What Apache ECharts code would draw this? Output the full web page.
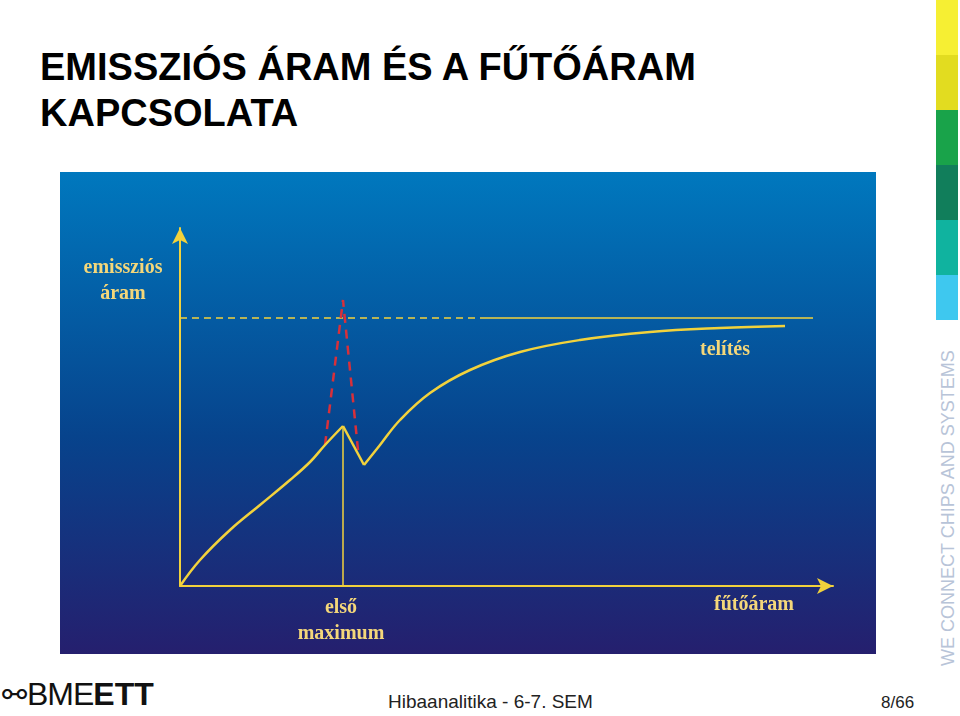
<!DOCTYPE html>
<html><head><meta charset="utf-8">
<script src="https://cdn.jsdelivr.net/npm/echarts@6/dist/echarts.min.js"></script>
<style>
body{margin:0;width:960px;height:716px;background:#fff;position:relative;overflow:hidden;font-family:"Liberation Sans",Arial,sans-serif}
#title{position:absolute;left:40px;top:44px;font-size:38px;font-weight:bold;line-height:46px;color:#000;white-space:nowrap}
#chart{position:absolute;left:60px;top:172px;width:816px;height:482px}
.s{position:absolute;left:936px;width:22px}
#vt{position:absolute;left:937px;top:666px;transform-origin:0 0;transform:rotate(-90deg);font-size:18px;line-height:22px;color:#b8c4d8;white-space:nowrap;font-weight:300}
#logo{position:absolute;left:2px;top:676px;font-size:32px;color:#111;white-space:nowrap}
#foot{position:absolute;left:388px;top:691px;font-size:19px;color:#222}
#pg{position:absolute;left:881px;top:693px;font-size:17px;color:#222}
</style></head><body>
<div id="title">EMISSZIÓS ÁRAM ÉS A FŰTŐÁRAM<br>KAPCSOLATA</div>
<div class="s" style="top:0;height:55px;background:#f6ef33"></div>
<div class="s" style="top:55px;height:55px;background:#e2dc20"></div>
<div class="s" style="top:110px;height:55px;background:#19a34a"></div>
<div class="s" style="top:165px;height:55px;background:#117e5b"></div>
<div class="s" style="top:220px;height:55px;background:#10b39f"></div>
<div class="s" style="top:275px;height:45px;background:#3ec8ef"></div>
<div id="vt">WE CONNECT CHIPS AND SYSTEMS</div>
<div id="logo"><span style="font-size:30px">⚯</span><span style="font-weight:300;letter-spacing:-1px">BME</span><b>ETT</b></div>
<div id="foot">Hibaanalitika - 6-7. SEM</div>
<div id="pg">8/66</div>
<div id="chart"></div>
<script>
const curveLeft=[[0,0],[20,26],[50,56],[80,81],[110,106],[130,124],[145,141],[163,160]];
const curveDrop=[[163,160],[184,121]];
const curveRight=[[184,121],[200,141],[220,166],[250,193],[290,216],[340,234],[400,246],[470,254],[540,258],[605,260]];
const peakDashed=[[145,141],[163,286],[178,136]];
const satDashed=[[0,268],[305,268]];
const satSolid=[[305,268],[633,268]];
const maxLine=[[163,0],[163,160]];
const Y='#f2d23c';
const ch=echarts.init(document.getElementById('chart'));
const lbl={fill:'#f4d77a',font:'bold 20px "Liberation Serif","DejaVu Serif",serif',textAlign:'center'};
const ln=(d,extra)=>Object.assign({type:'line',data:d,symbol:'none',lineStyle:{color:Y,width:2.5},silent:true},extra||{});
ch.setOption({
 animation:false,
 backgroundColor:new echarts.graphic.LinearGradient(0,0,0,1,[{offset:0,color:'#0078be'},{offset:0.55,color:'#07438c'},{offset:1,color:'#251f6e'}]),
 grid:{left:120,bottom:68,width:653,height:358},
 xAxis:{type:'value',min:0,max:653,axisLine:{lineStyle:{color:Y,width:2},symbol:['none','arrow'],symbolSize:[12,16]},axisTick:{show:false},axisLabel:{show:false},splitLine:{show:false}},
 yAxis:{type:'value',min:0,max:358,axisLine:{show:true,lineStyle:{color:Y,width:2},symbol:['none','arrow'],symbolSize:[12,16]},axisTick:{show:false},axisLabel:{show:false},splitLine:{show:false}},
 series:[
  ln(satDashed,{lineStyle:{color:Y,width:1.5,type:[7,5]}}),
  ln(satSolid,{lineStyle:{color:Y,width:1.5}}),
  ln(maxLine,{lineStyle:{color:Y,width:1.5}}),
  ln(peakDashed,{lineStyle:{color:'#d8303a',width:2.5,type:[9,7]}}),
  ln(curveLeft,{smooth:0.4}),
  ln(curveDrop),
  ln(curveRight,{smooth:0.4})
 ],
 graphic:[
  {type:'text',x:63,y:83,style:Object.assign({text:'emissziós\náram',lineHeight:26},lbl)},
  {type:'text',x:665,y:168,style:Object.assign({text:'telítés'},lbl)},
  {type:'text',x:281,y:423,style:Object.assign({text:'első\nmaximum',lineHeight:26},lbl)},
  {type:'text',x:694,y:423,style:Object.assign({text:'fűtőáram'},lbl)}
 ]
});
</script></body></html>
